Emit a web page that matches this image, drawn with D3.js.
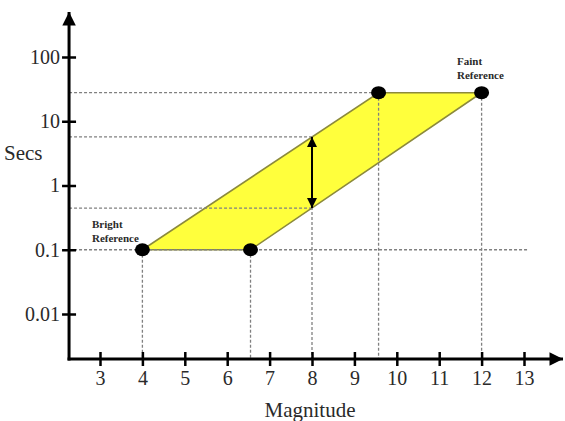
<!DOCTYPE html>
<html>
<head>
<meta charset="utf-8">
<script src="https://cdn.jsdelivr.net/npm/d3@7/dist/d3.min.js"></script>
<style>
  html, body { margin: 0; padding: 0; background: #fff; }
  svg { display: block; }
  svg text { font-family: "Liberation Serif", "Times New Roman", "DejaVu Serif", serif !important; }
</style>
</head>
<body>
<svg id="chart" width="565" height="421"></svg>
<script>
// Axis ticks
const xTicks = [3, 4, 5, 6, 7, 8, 9, 10, 11, 12, 13];
const yTicks = [0.01, 0.1, 1, 10, 100];
const yTickLabels = ["0.01", "0.1", "1", "10", "100"];

// Corners of the exposure band: magnitude vs seconds
const bandMag = [4, 6.55, 12, 9.57];
const bandSecs = [0.1, 0.1, 27.8, 27.8];

// Reference stars at the band corners
const refMag = [4, 6.55, 9.57, 12];
const refSecs = [0.1, 0.1, 27.8, 27.8];

// Exposure range at magnitude 8
const arrowMag = 8;
const arrowSecs = [5.7, 0.445];

// Axis extents (data units)
const xExtent = [2.27, 13.92];

const svg = d3.select("#chart");
const x = d3.scaleLinear().domain([3, 13]).range([100, 524]);
const y = d3.scaleLog().domain([0.01, 100]).range([314, 57]);

const x0 = x(xExtent[0]);
const y0 = 359;

const defs = svg.append("defs");
defs.append("marker").attr("id", "axArrow")
  .attr("viewBox", "0 0 10 10").attr("refX", 10).attr("refY", 5)
  .attr("markerWidth", 5).attr("markerHeight", 4.5).attr("orient", "auto")
  .attr("markerUnits", "strokeWidth")
  .append("path").attr("d", "M0,0 L10,5 L0,10 Z").attr("fill", "#000");
defs.append("marker").attr("id", "dimArrow")
  .attr("viewBox", "0 0 10 10").attr("refX", 10).attr("refY", 5)
  .attr("markerWidth", 5).attr("markerHeight", 5).attr("orient", "auto-start-reverse")
  .attr("markerUnits", "strokeWidth")
  .append("path").attr("d", "M0,0 L10,5 L0,10 Z").attr("fill", "#000");

// Yellow band
const band = bandMag.map((m, i) => [x(m), y(bandSecs[i])]);
svg.append("path")
  .attr("d", d3.line()(band) + "Z")
  .attr("fill", "#ffff3c")
  .attr("stroke", "#8c8a3c")
  .attr("stroke-width", 1.6);

// Dashed guide lines
const guides = svg.append("g")
  .attr("stroke", "#808080")
  .attr("stroke-width", 1.3)
  .attr("stroke-dasharray", "3,2")
  .attr("fill", "none");

const hGuides = [
  { s: 27.8, m0: xExtent[0], m1: 9.57 },
  { s: arrowSecs[0], m0: xExtent[0], m1: arrowMag },
  { s: arrowSecs[1], m0: xExtent[0], m1: arrowMag },
  { s: 0.1, m0: xExtent[0], m1: 13.1 }
];
hGuides.forEach(g => {
  guides.append("line")
    .attr("x1", x(g.m0)).attr("x2", x(g.m1))
    .attr("y1", y(g.s)).attr("y2", y(g.s));
});

const vGuides = [
  { m: 4, s: 0.1 },
  { m: 6.55, s: 0.1 },
  { m: arrowMag, s: arrowSecs[0] },
  { m: 9.57, s: 27.8 },
  { m: 12, s: 27.8 }
];
vGuides.forEach(g => {
  guides.append("line")
    .attr("x1", x(g.m)).attr("x2", x(g.m))
    .attr("y1", y(g.s)).attr("y2", y0);
});

// Double-headed arrow at magnitude 8
svg.append("line")
  .attr("x1", x(arrowMag)).attr("x2", x(arrowMag))
  .attr("y1", y(arrowSecs[0])).attr("y2", y(arrowSecs[1]))
  .attr("stroke", "#000").attr("stroke-width", 2)
  .attr("marker-start", "url(#dimArrow)")
  .attr("marker-end", "url(#dimArrow)");

// Axes
const xAxis = svg.append("g").attr("transform", `translate(0,${y0})`)
  .call(d3.axisBottom(x).tickValues(xTicks).tickFormat(d3.format("d")).tickSize(7).tickPadding(5));
xAxis.select(".domain").remove();
xAxis.selectAll(".tick line").attr("y1", -7).attr("y2", 7)
  .attr("stroke", "#000").attr("stroke-width", 2.5);
xAxis.selectAll(".tick text")
  .attr("font-size", 20).attr("fill", "#2a2a2a");

const yAxis = svg.append("g").attr("transform", `translate(${x0},0)`)
  .call(d3.axisLeft(y).tickValues(yTicks).tickFormat((d, i) => yTickLabels[i]).tickSize(7).tickPadding(2));
yAxis.select(".domain").remove();
yAxis.selectAll(".tick line").attr("x1", -7).attr("x2", 7)
  .attr("stroke", "#000").attr("stroke-width", 2.5);
yAxis.selectAll(".tick text")
  .attr("font-size", 20).attr("fill", "#2a2a2a");

svg.append("line")
  .attr("x1", x0 - 1.5).attr("x2", x(xExtent[1]))
  .attr("y1", y0).attr("y2", y0)
  .attr("stroke", "#000").attr("stroke-width", 3)
  .attr("marker-end", "url(#axArrow)");
svg.append("line")
  .attr("x1", x0).attr("x2", x0)
  .attr("y1", y0 + 1.5).attr("y2", 12)
  .attr("stroke", "#000").attr("stroke-width", 3)
  .attr("marker-end", "url(#axArrow)");

// Reference stars
svg.append("g").selectAll("ellipse")
  .data(refMag)
  .join("ellipse")
  .attr("cx", d => x(d))
  .attr("cy", (d, i) => y(refSecs[i]))
  .attr("rx", 7.5).attr("ry", 6.5)
  .attr("fill", "#000");

// Axis titles
svg.append("text").attr("x", 4).attr("y", 160)
  .attr("font-size", 21).attr("fill", "#2a2a2a").text("Secs");
svg.append("text").attr("x", 310).attr("y", 417).attr("text-anchor", "middle")
  .attr("font-size", 21).attr("fill", "#2a2a2a").text("Magnitude");

// Reference labels
const note = (tx, ty, lines) => {
  const t = svg.append("text").attr("x", tx).attr("y", ty)
    .attr("font-size", 11).attr("font-weight", "bold").attr("fill", "#2a2a2a");
  lines.forEach((l, i) => t.append("tspan").attr("x", tx).attr("dy", i ? 14 : 0).text(l));
};
note(92, 228, ["Bright", "Reference"]);
note(457, 65, ["Faint", "Reference"]);
</script>
</body>
</html>
